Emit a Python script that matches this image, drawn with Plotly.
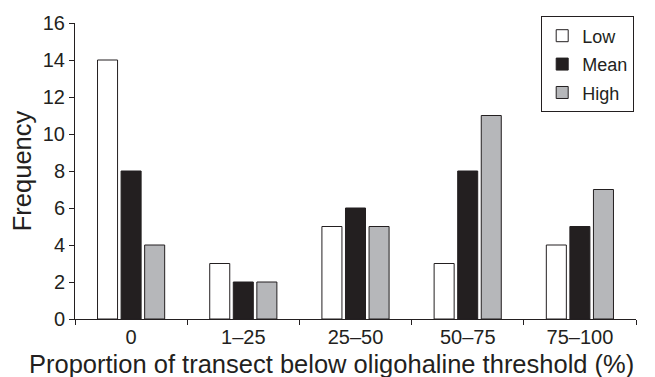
import plotly.graph_objects as go

categories = ["0", "1–25", "25–50", "50–75", "75–100"]
low = [14, 3, 5, 3, 4]
mean = [8, 2, 6, 8, 5]
high = [4, 2, 5, 11, 7]
y_ticks = [0, 2, 4, 6, 8, 10, 12, 14, 16]
x_title = "Proportion of transect below oligohaline threshold (%)"
y_title = "Frequency"

fig = go.Figure()
series = [("Low", low, "#ffffff"), ("Mean", mean, "#231f20"), ("High", high, "#b6b7ba")]
for name, vals, color in series:
    fig.add_trace(go.Bar(
        name=name, x=categories, y=vals, legendgroup=name,
        marker=dict(color=color, line=dict(color="#231f20", width=1)),
    ))

font = "Liberation Sans, Arial, sans-serif"
ink = "#231f20"
fig.update_layout(
    width=655, height=377,
    margin=dict(l=75, r=19, t=23, b=58, autoexpand=False),
    paper_bgcolor="white", plot_bgcolor="white",
    barmode="group", bargap=0.37, bargroupgap=0.15,
    font=dict(family=font, color=ink, size=20),
    showlegend=True,
    legend=dict(
        x=0.831, y=1.022, xanchor="left", yanchor="top",
        bordercolor=ink, borderwidth=1, bgcolor="white",
        font=dict(size=18, family=font, color=ink),
        tracegroupgap=2, itemwidth=30,
    ),
    xaxis=dict(
        showline=True, linecolor=ink, linewidth=1,
        ticks="outside", ticklen=5, tickcolor=ink, tickson="boundaries",
        tickfont=dict(size=20), automargin=False,
        showgrid=False,
    ),
    yaxis=dict(
        range=[0, 16], tickvals=y_ticks,
        showline=True, linecolor=ink, linewidth=1,
        ticks="outside", ticklen=5, tickcolor=ink,
        tickfont=dict(size=20), automargin=False,
        title=dict(text=y_title, font=dict(size=25.5), standoff=3),
        showgrid=False, zeroline=False,
    ),
    annotations=[dict(
        text=x_title, xref="paper", yref="paper", x=0.458, y=-0.152,
        xanchor="center", yanchor="middle", showarrow=False,
        font=dict(size=25.5, family=font, color=ink),
    )],
)

fig.write_html("out.html", config={"displayModeBar": False},
               post_script="document.body.style.margin='0';")
